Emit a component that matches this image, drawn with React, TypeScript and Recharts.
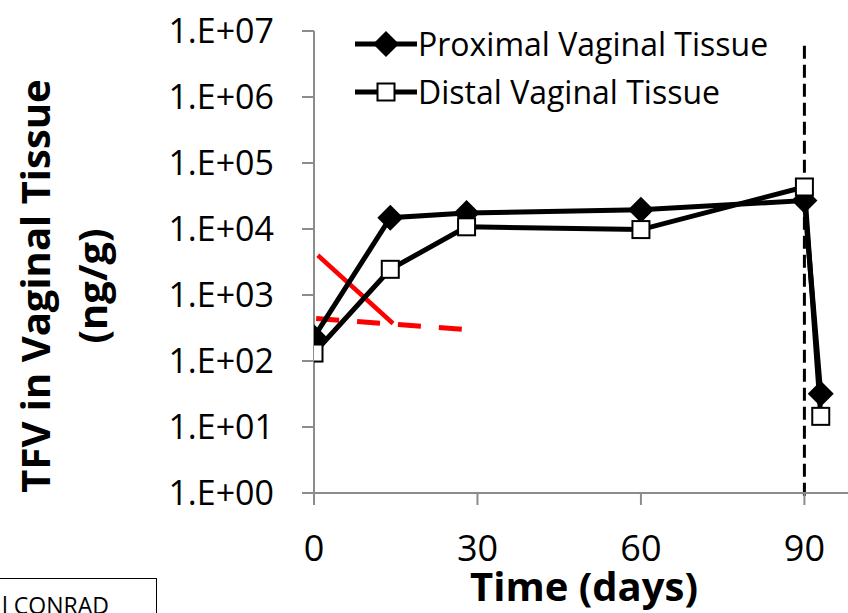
import { LineChart, Line, XAxis, YAxis, ReferenceLine, Legend } from "recharts"

const dayTicks = [0, 30, 60, 90]
const tfvTicks = [1, 10, 100, 1000, 10000, 100000, 1000000, 10000000]

const proximalDays = [0, 14, 28, 60, 90, 93]
const proximalTfv = [230, 14800, 17500, 19500, 27000, 32]

const distalDays = [0, 14, 28, 60, 90, 93]
const distalTfv = [132, 2450, 10800, 9800, 43300, 14.5]

// red marks drawn over the figure
const redSolidDays = [0.7, 14.5]
const redSolidTfv = [4000, 370]
const redDashDays = [0.4, 28]
const redDashTfv = [440, 300]

const ringRemovalDay = 90

const toPoints = (days: number[], tfv: number[]) => days.map((d, i) => ({ day: d, tfv: tfv[i] }))

const proximal = toPoints(proximalDays, proximalTfv)
const distal = toPoints(distalDays, distalTfv)
const redSolid = toPoints(redSolidDays, redSolidTfv)
const redDash = toPoints(redDashDays, redDashTfv)

const FONT = "'Open Sans', sans-serif"
const AXIS = "#8c8c8c"

const expLabel = (v: number) => `1.E+${String(Math.round(Math.log10(v))).padStart(2, "0")}`

function Diamond(props: any) {
  const { cx, cy, index } = props
  if (cx == null || cy == null) return null
  const r = 13
  return <path key={`d-${index}`} d={`M${cx},${cy - r}L${cx + r},${cy}L${cx},${cy + r}L${cx - r},${cy}Z`} fill="#000" />
}

function Square(props: any) {
  const { cx, cy, index } = props
  if (cx == null || cy == null) return null
  return <rect key={`s-${index}`} x={cx - 8.5} y={cy - 8.5} width={17} height={17} fill="#fff" stroke="#000" strokeWidth={2} />
}

const legendItems = [
  { name: "Proximal Vaginal Tissue", marker: "diamond" },
  { name: "Distal Vaginal Tissue", marker: "square" },
]

function LegendBox() {
  return (
    <div style={{ fontFamily: FONT, fontSize: 32, lineHeight: "48px", color: "#000" }}>
      {legendItems.map((it) => (
        <div key={it.name} style={{ display: "flex", alignItems: "center", whiteSpace: "nowrap" }}>
          <svg width={62} height={48} style={{ marginRight: 1 }}>
            <line x1={0} x2={62} y1={24} y2={24} stroke="#000" strokeWidth={5} />
            {it.marker === "diamond" ? (
              <path d="M31,11L44,24L31,37L18,24Z" fill="#000" />
            ) : (
              <rect x={22.5} y={15.5} width={17} height={17} fill="#fff" stroke="#000" strokeWidth={2} />
            )}
          </svg>
          <span>{it.name}</span>
        </div>
      ))}
    </div>
  )
}

export default function App() {
  return (
    <div style={{ position: "absolute", left: 0, top: 0, width: 848, height: 613, overflow: "hidden", background: "#fff" }}>
      <LineChart width={848} height={613} margin={{ top: 31, right: 0, bottom: 0, left: 0 }}>
        <XAxis
          dataKey="day"
          type="number"
          domain={[0, 98]}
          ticks={dayTicks}
          allowDataOverflow
          height={120}
          stroke={AXIS}
          strokeWidth={2}
          tickSize={12}
          tickMargin={30}
          tick={{ fontSize: 36, fill: "#000", fontFamily: FONT }}
          label={{
            content: () => (
              <text x={584} y={601} textAnchor="middle" fontFamily={FONT} fontWeight={700} fontSize={40} fill="#000">
                Time (days)
              </text>
            ),
          }}
        />
        <YAxis
          dataKey="tfv"
          scale="log"
          domain={[1, 10000000]}
          ticks={tfvTicks}
          allowDataOverflow
          width={314}
          stroke={AXIS}
          strokeWidth={2}
          tickSize={12}
          tickMargin={28}
          tickFormatter={expLabel}
          tick={{ fontSize: 34, fill: "#000", fontFamily: FONT }}
          label={{
            content: () => (
              <g fontFamily={FONT} fontWeight={700} fontSize={40} fill="#000">
                <text x={50} y={286} textAnchor="middle" transform="rotate(-90, 50, 286)">
                  TFV in Vaginal Tissue
                </text>
                <text x={107} y={286} textAnchor="middle" transform="rotate(-90, 107, 286)">
                  (ng/g)
                </text>
              </g>
            ),
          }}
        />
        <Legend
          layout="vertical"
          align="center"
          verticalAlign="middle"
          wrapperStyle={{ left: 355, top: 20, width: "auto" }}
          content={() => <LegendBox />}
        />
        <Line
          data={redSolid}
          dataKey="tfv"
          stroke="#ff0000"
          strokeWidth={4.5}
          dot={false}
          legendType="none"
          isAnimationActive={false}
        />
        <Line
          data={redDash}
          dataKey="tfv"
          stroke="#ff0000"
          strokeWidth={5}
          strokeDasharray="23 18"
          dot={false}
          legendType="none"
          isAnimationActive={false}
        />
        <Line
          name="Proximal Vaginal Tissue"
          data={proximal}
          dataKey="tfv"
          stroke="#000"
          strokeWidth={5}
          dot={Diamond}
          activeDot={false}
          isAnimationActive={false}
        />
        <Line
          name="Distal Vaginal Tissue"
          data={distal}
          dataKey="tfv"
          stroke="#000"
          strokeWidth={5}
          dot={Square}
          activeDot={false}
          isAnimationActive={false}
        />
        <ReferenceLine
          segment={[
            { x: ringRemovalDay, y: 6000000 },
            { x: ringRemovalDay, y: 0.75 },
          ]}
          stroke="#000"
          strokeWidth={3}
          strokeDasharray="13 6"
          ifOverflow="visible"
        />
      </LineChart>
      <div
        style={{
          position: "absolute",
          left: -2,
          top: 578,
          width: 157,
          height: 60,
          border: "1.5px solid #000",
          fontFamily: FONT,
          fontSize: 23,
          color: "#000",
        }}
      >
        <span style={{ position: "absolute", left: 3, top: 10, whiteSpace: "nowrap" }}>l CONRAD</span>
      </div>
    </div>
  )
}
